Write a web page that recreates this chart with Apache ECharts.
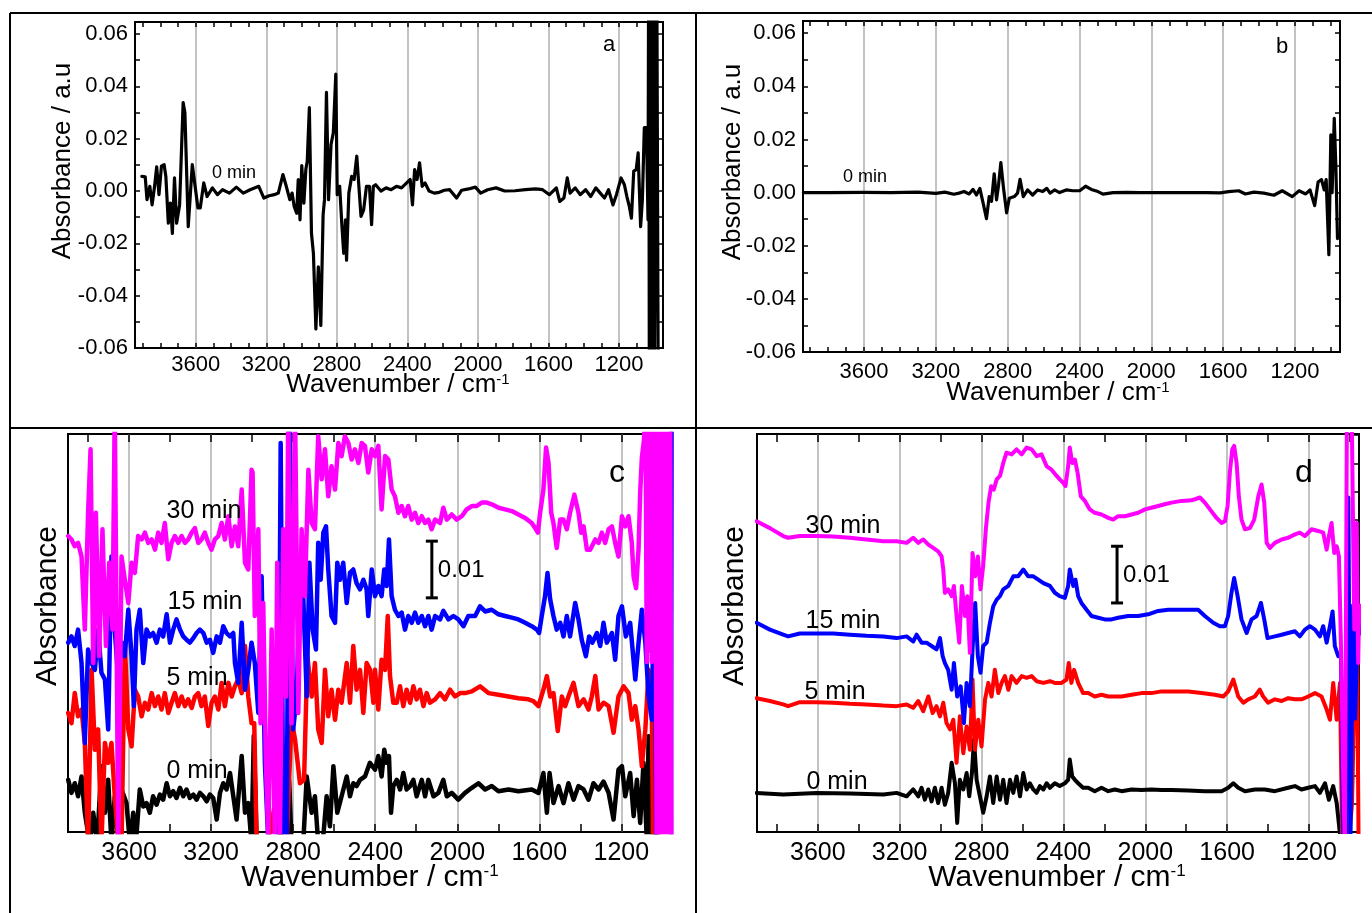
<!DOCTYPE html>
<html><head><meta charset="utf-8">
<script src="https://cdn.jsdelivr.net/npm/echarts@6/dist/echarts.min.js"></script>
<style>html,body{margin:0;padding:0;background:#fff}#chart{width:1372px;height:913px}</style>
</head><body><div id="chart"></div>
<script>
// ---------- tick labels ----------
const xMajorLabels = [3600, 3200, 2800, 2400, 2000, 1600, 1200];
const xMinorAB = [1000,1100,1200,1300,1400,1500,1600,1700,1800,1900,2000,2100,2200,2300,2400,2500,2600,2700,2800,2900,3000,3100,3200,3300,3400,3500,3600,3700,3800,3900];
const xMinorCD = [1000,1200,1400,1600,1800,2000,2200,2400,2600,2800,3000,3200,3400,3600,3800];
const yLabelsAB = [-0.06, -0.04, -0.02, 0, 0.02, 0.04, 0.06];
const yTicksAB = [-0.06,-0.05,-0.04,-0.03,-0.02,-0.01,0,0.01,0.02,0.03,0.04,0.05,0.06];
const yTicksCD = [0,0.005,0.01,0.015,0.02,0.025,0.03,0.035,0.04,0.045,0.05,0.055,0.06,0.065,0.07];
const seriesNames = ['0 min', '5 min', '15 min', '30 min'];

// ---------- panel a : [wavenumber, absorbance] ----------
const a0min = [[3906,0.0056],[3887,0.0054],[3877,-0.0033],[3861,0.0018],[3848,-0.0053],[3834,0.0018],[3822,0.0092],[3809,-0.0014],[3795,0.0095],[3780,0.0101],[3770,0.0056],[3756,-0.0123],[3744,-0.0046],[3733,-0.0162],[3721,0.0050],[3709,-0.0123],[3692,-0.0053],[3672,0.0338],[3662,0.0300],[3643,-0.0136],[3620,0.0101],[3604,0.0018],[3588,-0.0065],[3575,-0.0065],[3555,0.0031],[3536,-0.0021],[3506,0.0012],[3477,-0.0014],[3448,0.0005],[3409,-0.0008],[3370,0.0015],[3331,-0.0008],[3292,0.0005],[3243,0.0018],[3214,-0.0027],[3184,-0.0018],[3155,-0.0014],[3132,-0.0008],[3106,0.0063],[3087,0.0018],[3067,-0.0033],[3054,-0.0008],[3042,-0.0059],[3028,-0.0085],[3019,0.0044],[3009,-0.0110],[2999,0.0097],[2987,-0.0046],[2976,0.0082],[2968,0.0114],[2956,0.0319],[2944,-0.0162],[2933,-0.0238],[2919,-0.0527],[2905,-0.0290],[2891,-0.0514],[2878,-0.0091],[2870,-0.0033],[2859,0.0377],[2847,-0.0033],[2833,0.0178],[2820,0.0223],[2806,0.0447],[2798,-0.0014],[2784,0.0018],[2771,-0.0136],[2761,-0.0238],[2751,-0.0110],[2745,-0.0264],[2732,-0.0008],[2716,0.0056],[2702,0.0044],[2687,0.0133],[2675,0.0018],[2663,-0.0097],[2648,-0.0072],[2632,0.0018],[2615,0.0018],[2603,-0.0129],[2593,0.0018],[2580,0.0024],[2550,0.0000],[2521,0.0012],[2492,0.0005],[2462,0.0018],[2433,0.0012],[2404,0.0031],[2384,0.0044],[2371,-0.0053],[2359,0.0082],[2345,0.0044],[2331,0.0108],[2316,0.0018],[2300,0.0031],[2277,0.0000],[2248,-0.0008],[2219,-0.0005],[2190,0.0003],[2160,0.0005],[2121,-0.0027],[2092,0.0003],[2053,0.0008],[2014,0.0015],[1984,-0.0008],[1945,0.0005],[1897,0.0012],[1848,0.0000],[1789,0.0001],[1731,0.0005],[1672,0.0008],[1633,0.0005],[1594,-0.0014],[1555,0.0012],[1536,-0.0040],[1512,-0.0027],[1493,0.0050],[1477,-0.0008],[1448,0.0012],[1419,-0.0014],[1389,0.0005],[1360,-0.0021],[1331,0.0012],[1306,-0.0008],[1282,-0.0027],[1259,0.0005],[1234,-0.0053],[1214,-0.0014],[1188,0.0050],[1169,0.0024],[1155,-0.0021],[1141,-0.0059],[1129,-0.0104],[1116,0.0076],[1102,0.0082],[1091,0.0146],[1077,-0.0136],[1067,-0.0033],[1056,0.0242],[1044,0.0242],[1035,-0.0110],[1031,0.1],[1027,-0.1],[1023,0.1],[1019,-0.1],[1006,0.1],[1001,-0.1],[986,0.1],[976,-0.1]];

// ---------- panel b ----------
const b0min = [[3938,0],[3800,0],[3600,0.0001],[3450,0],[3300,0.0002],[3200,-0.0003],[3150,0.0002],[3100,-0.0006],[3071,-0.0002],[3043,0.0004],[3015,-0.0005],[2993,0.0012],[2974,-0.0009],[2955,0.0016],[2937,-0.0039],[2918,-0.0098],[2903,-0.0015],[2890,-0.0033],[2875,0.0071],[2862,-0.0027],[2851,0.0028],[2838,0.0113],[2823,0.0016],[2806,-0.0076],[2791,-0.0021],[2763,-0.0015],[2745,-0.0002],[2731,0.0050],[2713,-0.0015],[2689,0.0010],[2661,-0.0009],[2633,0.0010],[2605,0.0004],[2582,0.0016],[2564,-0.0002],[2539,0.0010],[2511,0],[2474,0.0010],[2437,0.0007],[2399,0.0007],[2366,0.0024],[2334,0.0012],[2297,0.0004],[2269,-0.0006],[2213,0],[2138,0.0001],[2064,0],[2004,0],[1914,0],[1802,0],[1690,0],[1616,-0.0001],[1569,0.0004],[1513,0.0007],[1476,-0.0005],[1429,0.0002],[1373,-0.0002],[1317,-0.001],[1271,0.0007],[1215,-0.0015],[1177,0.0007],[1140,-0.0005],[1116,0.001],[1090,-0.0049],[1071,0.004],[1052,0.0049],[1037,0.001],[1026,0.0049],[1011,-0.0234],[1000,0.0217],[993,0],[981,0.0280],[972,0.0095],[963,-0.0173]];

// ---------- panel c (stacked, arbitrary offset; scale bar = 0.01) ----------
const c0min = [[3897,0.0092],[3881,0.0069],[3865,0.0086],[3849,0.0063],[3832,0.0098],[3816,0.0034],[3792,-0.002],[3775,0.0034],[3756,-0.002],[3735,0.0116],[3718,0.0034],[3702,0.0092],[3686,-0.002],[3670,0.0063],[3653,0.0034],[3637,0.0075],[3613,0.0051],[3596,-0.002],[3580,0.0034],[3567,-0.002],[3548,0.0075],[3531,0.0045],[3515,0.0051],[3499,0.0034],[3483,0.0063],[3466,0.0048],[3450,0.0066],[3434,0.0057],[3417,0.0086],[3401,0.0063],[3385,0.0072],[3369,0.0060],[3352,0.0078],[3336,0.0063],[3320,0.0075],[3304,0.0060],[3287,0.0066],[3271,0.0057],[3255,0.0069],[3238,0.0063],[3222,0.0054],[3206,0.0066],[3190,0.0060],[3173,0.0022],[3157,0.0069],[3141,0.0086],[3125,0.0075],[3108,0.0104],[3092,0.0063],[3076,0.0022],[3051,0.0134],[3035,0.0034],[3019,0.0051],[3003,-0.002],[2992,0.0170],[2978,-0.002],[2954,-0.002],[2930,-0.002],[2897,-0.002],[2865,-0.002],[2832,0.0134],[2819,0.0086],[2808,-0.002],[2783,-0.002],[2751,-0.002],[2734,0.0098],[2710,0.0034],[2694,0.0063],[2678,-0.002],[2656,-0.002],[2637,0.0063],[2621,0.0010],[2604,0.0116],[2585,0.0034],[2564,0.0063],[2539,0.0098],[2523,0.0063],[2507,0.0086],[2491,0.0081],[2474,0.0092],[2450,0.0098],[2426,0.0122],[2401,0.0110],[2385,0.0134],[2369,0.0098],[2356,0.0145],[2344,0.0122],[2333,0.0134],[2323,0.0034],[2312,0.0081],[2295,0.0092],[2279,0.0075],[2263,0.0104],[2247,0.0075],[2230,0.0081],[2214,0.0092],[2198,0.0063],[2173,0.0092],[2157,0.0063],[2141,0.0092],[2116,0.0063],[2092,0.0069],[2068,0.0092],[2051,0.0063],[2027,0.0069],[1995,0.0057],[1962,0.0069],[1929,0.0078],[1897,0.0086],[1864,0.0075],[1832,0.0081],[1799,0.0072],[1750,0.0075],[1702,0.0072],[1637,0.0075],[1604,0.0069],[1580,0.0104],[1563,0.0034],[1550,0.0104],[1531,0.0051],[1506,0.0081],[1482,0.0051],[1458,0.0086],[1433,0.0057],[1409,0.0081],[1384,0.0075],[1360,0.0057],[1336,0.0086],[1311,0.0075],[1287,0.0089],[1262,0.0069],[1238,0.0022],[1214,0.0110],[1197,0.0116],[1181,0.0063],[1157,0.0104],[1140,0.0028],[1124,0.0092],[1108,0.0016],[1092,0.0122],[1075,-0.002],[1067,0.0169],[1058,-0.002],[1050,0.0120],[1042,-0.003],[1035,0.0100],[1028,-0.003]];
const c5min = [[3897,0.0210],[3881,0.0192],[3865,0.0245],[3849,0.0204],[3832,0.0216],[3816,0.0157],[3800,-0.002],[3783,0.0286],[3767,0.0145],[3751,0.0181],[3735,-0.002],[3718,0.0157],[3702,0.0122],[3686,0.0157],[3670,0.0063],[3653,-0.002],[3637,-0.002],[3621,0.0334],[3604,0.0181],[3588,0.0151],[3572,0.0251],[3556,0.0239],[3539,0.0204],[3523,0.0228],[3507,0.0216],[3490,0.0245],[3474,0.0222],[3458,0.0239],[3442,0.0216],[3426,0.0245],[3409,0.0210],[3393,0.0228],[3377,0.0245],[3360,0.0222],[3344,0.0239],[3328,0.0222],[3312,0.0234],[3295,0.0219],[3279,0.0239],[3263,0.0245],[3247,0.0222],[3231,0.0239],[3214,0.0187],[3198,0.0228],[3182,0.0239],[3165,0.0216],[3149,0.0263],[3133,0.0222],[3116,0.0263],[3100,0.0239],[3084,0.0257],[3068,0.0269],[3051,0.0245],[3035,0.0328],[3019,0.0239],[3003,0.0192],[2990,0.0192],[2978,-0.002],[2950,-0.002],[2920,-0.002],[2881,0.0069],[2850,-0.002],[2832,-0.002],[2808,0.0198],[2791,0.0163],[2767,0.0086],[2747,0.0092],[2731,0.0310],[2710,0.0239],[2694,0.0298],[2678,0.0181],[2661,0.0157],[2645,0.0286],[2629,0.0204],[2613,0.0251],[2596,0.0198],[2580,0.0251],[2564,0.0228],[2539,0.0298],[2523,0.0228],[2507,0.0328],[2491,0.0251],[2474,0.0286],[2458,0.0210],[2442,0.0298],[2425,0.0286],[2409,0.0228],[2401,0.0286],[2385,0.0216],[2369,0.0304],[2352,0.0286],[2339,0.0381],[2328,0.0275],[2312,0.0228],[2295,0.0228],[2279,0.0257],[2263,0.0222],[2247,0.0251],[2230,0.0228],[2214,0.0257],[2198,0.0234],[2182,0.0251],[2165,0.0222],[2149,0.0245],[2133,0.0228],[2108,0.0234],[2084,0.0245],[2060,0.0234],[2035,0.0251],[2011,0.0239],[1986,0.0245],[1962,0.0245],[1929,0.0248],[1889,0.0257],[1848,0.0245],[1799,0.0242],[1750,0.0239],[1702,0.0236],[1653,0.0234],[1629,0.0231],[1604,0.0222],[1580,0.0251],[1563,0.0275],[1547,0.0239],[1531,0.0245],[1510,0.0178],[1490,0.0239],[1474,0.0222],[1458,0.0239],[1433,0.0263],[1409,0.0222],[1384,0.0234],[1360,0.0216],[1344,0.0239],[1327,0.0275],[1311,0.0216],[1287,0.0228],[1262,0.0222],[1238,0.0175],[1214,0.0239],[1189,0.0257],[1165,0.0245],[1149,0.0198],[1132,0.0222],[1116,0.0181],[1100,0.0116],[1083,0.0181],[1067,0.0286],[1051,0.0204],[1045,-0.002],[1038,0.0370],[1030,-0.002],[1022,0.0360],[1015,-0.003]];
const c15min = [[3897,0.0334],[3881,0.0345],[3865,0.0328],[3849,0.0357],[3832,0.0298],[3816,0.0157],[3800,0.0322],[3783,0.0298],[3767,0.0286],[3751,0.0357],[3735,0.0281],[3718,0.0269],[3702,0.0181],[3686,0.0486],[3670,0.0357],[3653,0.0269],[3637,0.0334],[3621,0.0310],[3604,0.0392],[3588,0.0310],[3577,0.0222],[3564,0.0357],[3548,0.0392],[3531,0.0298],[3515,0.0357],[3499,0.0345],[3483,0.0351],[3466,0.0334],[3450,0.0357],[3434,0.0345],[3417,0.0384],[3401,0.0334],[3385,0.0357],[3369,0.0375],[3352,0.0357],[3336,0.0345],[3320,0.0339],[3304,0.0334],[3287,0.0342],[3271,0.0351],[3255,0.0357],[3238,0.0351],[3222,0.0334],[3206,0.0339],[3190,0.0316],[3173,0.0345],[3157,0.0334],[3141,0.0363],[3125,0.0351],[3108,0.0345],[3092,0.0351],[3084,0.0298],[3068,0.0263],[3051,0.0369],[3035,0.0251],[3019,0.0286],[3003,0.0334],[2987,0.0298],[2970,0.0210],[2954,0.0451],[2938,0.0122],[2921,-0.002],[2897,-0.002],[2873,-0.002],[2861,0.0686],[2848,-0.002],[2832,-0.002],[2819,0.075],[2800,0.0181],[2783,0.0239],[2767,0.0445],[2751,0.0416],[2734,0.0239],[2721,0.0475],[2705,0.0357],[2689,0.0322],[2678,0.0510],[2666,0.0445],[2653,0.0528],[2640,0.0539],[2629,0.0463],[2613,0.0381],[2596,0.0369],[2585,0.0475],[2572,0.0445],[2556,0.0475],[2539,0.0404],[2523,0.0457],[2507,0.0463],[2491,0.0439],[2474,0.0428],[2458,0.0445],[2442,0.0428],[2434,0.0381],[2417,0.0463],[2401,0.0416],[2385,0.0434],[2369,0.0416],[2356,0.0463],[2344,0.0434],[2333,0.0516],[2320,0.0416],[2304,0.0392],[2287,0.0381],[2271,0.0387],[2255,0.0357],[2239,0.0381],[2222,0.0369],[2206,0.0387],[2190,0.0369],[2173,0.0381],[2157,0.0363],[2141,0.0381],[2125,0.0357],[2108,0.0381],[2084,0.0375],[2068,0.0390],[2043,0.0375],[2019,0.0381],[1995,0.0375],[1970,0.0363],[1946,0.0381],[1913,0.0381],[1889,0.0398],[1864,0.0389],[1832,0.0392],[1799,0.0384],[1767,0.0381],[1734,0.0378],[1702,0.0375],[1669,0.0369],[1637,0.0363],[1612,0.0357],[1601,0.0351],[1588,0.0381],[1572,0.0416],[1560,0.0457],[1547,0.0410],[1531,0.0381],[1515,0.0357],[1498,0.0369],[1482,0.0345],[1466,0.0381],[1450,0.0345],[1425,0.0404],[1409,0.0375],[1393,0.0339],[1373,0.0310],[1357,0.0345],[1341,0.0334],[1319,0.0351],[1303,0.0328],[1287,0.0369],[1271,0.0334],[1246,0.0351],[1230,0.0304],[1214,0.0381],[1197,0.0398],[1178,0.0345],[1157,0.0369],[1132,0.0269],[1116,0.0334],[1100,0.0392],[1083,0.0334],[1067,0.0239],[1051,0.0198],[1038,0.0516],[1030,-0.002],[958,-0.002],[955,0.075]];
const c30min = [[3897,0.0522],[3881,0.0516],[3865,0.0504],[3849,0.0510],[3832,0.0486],[3816,0.0357],[3800,0.0563],[3788,0.0675],[3775,0.0298],[3762,0.0563],[3746,0.0310],[3730,0.0534],[3713,0.0328],[3697,0.0475],[3681,0.0357],[3670,0.075],[3653,-0.002],[3637,0.0486],[3621,0.0445],[3604,0.0404],[3588,0.0475],[3572,0.0457],[3556,0.0522],[3539,0.0516],[3523,0.0528],[3507,0.0510],[3490,0.0516],[3474,0.0498],[3458,0.0528],[3442,0.0510],[3426,0.0545],[3409,0.0481],[3393,0.0510],[3377,0.0522],[3360,0.0510],[3344,0.0522],[3328,0.0510],[3312,0.0516],[3295,0.0528],[3279,0.0536],[3263,0.0510],[3247,0.0516],[3231,0.0528],[3214,0.0510],[3198,0.0498],[3182,0.0516],[3165,0.0522],[3149,0.0545],[3133,0.0516],[3116,0.0557],[3100,0.0504],[3084,0.0539],[3068,0.0504],[3051,0.0604],[3035,0.0475],[3019,0.0463],[3003,0.0639],[2998,0.0634],[2987,0.0381],[2970,0.0534],[2959,0.0192],[2946,0.0404],[2933,0.0122],[2921,-0.002],[2905,0.0357],[2889,-0.002],[2878,0.0475],[2865,-0.002],[2848,0.0534],[2835,0.0239],[2824,0.075],[2808,0.0192],[2791,0.075],[2775,0.0210],[2759,0.0534],[2743,0.0416],[2726,0.0639],[2710,0.0545],[2694,0.0534],[2678,0.0698],[2661,0.0622],[2645,0.0675],[2629,0.0592],[2613,0.0645],[2596,0.0604],[2580,0.0686],[2564,0.0663],[2548,0.0698],[2531,0.0686],[2515,0.0657],[2499,0.0675],[2482,0.0651],[2466,0.0686],[2450,0.0681],[2434,0.0634],[2417,0.0675],[2401,0.0663],[2385,0.0681],[2369,0.0569],[2352,0.0663],[2336,0.0657],[2320,0.0604],[2304,0.0592],[2287,0.0563],[2271,0.0575],[2255,0.0557],[2239,0.0575],[2222,0.0551],[2206,0.0563],[2190,0.0545],[2173,0.0557],[2157,0.0545],[2141,0.0551],[2125,0.0534],[2108,0.0551],[2084,0.0545],[2068,0.0572],[2051,0.0551],[2027,0.0560],[2003,0.0551],[1978,0.0557],[1954,0.0569],[1929,0.0575],[1905,0.0575],[1881,0.0581],[1856,0.0581],[1832,0.0578],[1799,0.0572],[1767,0.0569],[1734,0.0566],[1702,0.0560],[1669,0.0554],[1637,0.0545],[1620,0.0536],[1607,0.0528],[1596,0.0563],[1580,0.0604],[1567,0.0678],[1555,0.0651],[1542,0.0563],[1531,0.0545],[1515,0.0501],[1498,0.0551],[1482,0.0551],[1466,0.0534],[1450,0.0563],[1429,0.0595],[1409,0.0563],[1396,0.0528],[1384,0.0539],[1368,0.0498],[1352,0.0498],[1327,0.0516],[1311,0.0510],[1295,0.0528],[1279,0.0510],[1262,0.0534],[1246,0.0539],[1230,0.0510],[1214,0.0486],[1197,0.0557],[1181,0.0539],[1165,0.0557],[1149,0.0510],[1140,0.0450],[1128,0.0430],[1116,0.0500],[1108,0.0600],[1100,0.0660],[1090,0.0690],[1082,0.075],[1076,0.030],[1070,0.075],[1064,0.032],[1058,0.075],[1052,0.030],[1046,0.075],[1040,0.034],[1034,0.075],[1028,-0.003],[1022,0.075],[1016,-0.003],[1010,0.075],[1004,-0.003],[998,0.075],[992,-0.003],[986,0.075],[980,-0.003],[974,0.075],[968,-0.003],[962,0.075],[956,-0.003]];

// ---------- panel d ----------
const d0min = [[3899,0.0069],[3769,0.0066],[3606,0.0069],[3443,0.0068],[3280,0.0066],[3215,0.0069],[3166,0.0063],[3134,0.0075],[3109,0.0063],[3093,0.0078],[3077,0.0057],[3060,0.0075],[3044,0.0054],[3028,0.0078],[3012,0.0051],[2995,0.0078],[2979,0.0048],[2963,0.0069],[2946,0.0122],[2930,0.0086],[2919,0.0016],[2906,0.0092],[2889,0.0075],[2873,0.0104],[2860,0.0063],[2847,0.0104],[2837,0.0163],[2824,0.0092],[2808,0.0063],[2792,0.0034],[2775,0.0063],[2759,0.0098],[2743,0.0051],[2726,0.0098],[2710,0.0057],[2694,0.0092],[2678,0.0051],[2661,0.0092],[2645,0.0069],[2629,0.0098],[2612,0.0063],[2596,0.0104],[2580,0.0075],[2564,0.0086],[2547,0.0075],[2531,0.0069],[2515,0.0081],[2498,0.0075],[2482,0.0086],[2466,0.0078],[2442,0.0086],[2418,0.0081],[2393,0.0086],[2377,0.0092],[2369,0.0128],[2357,0.0098],[2344,0.0092],[2328,0.0086],[2304,0.0078],[2279,0.0078],[2247,0.0072],[2214,0.0078],[2181,0.0072],[2149,0.0075],[2116,0.0072],[2067,0.0075],[2018,0.0074],[1970,0.0075],[1921,0.0074],[1872,0.0074],[1790,0.0073],[1709,0.0072],[1627,0.0072],[1595,0.0078],[1570,0.0086],[1546,0.0078],[1513,0.0072],[1465,0.0075],[1416,0.0075],[1367,0.0072],[1302,0.0078],[1269,0.0081],[1237,0.0075],[1204,0.0078],[1171,0.0081],[1147,0.0069],[1122,0.0086],[1103,0.0057],[1082,0.0081],[1065,0.0051],[1044,-0.002],[1000,-0.003],[955,-0.003]];
const d5min = [[3899,0.0236],[3834,0.0231],[3769,0.0225],[3745,0.0222],[3688,0.0229],[3606,0.0229],[3525,0.0228],[3443,0.0226],[3362,0.0225],[3280,0.0223],[3215,0.0222],[3166,0.0225],[3134,0.0219],[3109,0.0231],[3085,0.0213],[3060,0.0239],[3039,0.0210],[3020,0.0222],[3003,0.0204],[2987,0.0228],[2971,0.0192],[2954,0.0181],[2938,0.0198],[2922,0.0122],[2906,0.0204],[2889,0.0139],[2873,0.0186],[2857,0.0145],[2844,0.0269],[2832,0.0145],[2816,0.0198],[2800,0.0151],[2783,0.0234],[2767,0.0263],[2751,0.0239],[2735,0.0286],[2718,0.0245],[2702,0.0263],[2686,0.0275],[2669,0.0251],[2653,0.0275],[2629,0.0263],[2604,0.0275],[2580,0.0272],[2555,0.0275],[2531,0.0266],[2498,0.0263],[2466,0.0266],[2442,0.0263],[2409,0.0263],[2385,0.0269],[2374,0.0298],[2361,0.0263],[2348,0.0286],[2328,0.0263],[2304,0.0245],[2279,0.0245],[2247,0.0239],[2214,0.0242],[2181,0.0239],[2149,0.0239],[2116,0.0239],[2067,0.0242],[2018,0.0245],[1970,0.0245],[1921,0.0248],[1872,0.0248],[1790,0.0248],[1725,0.0245],[1660,0.0242],[1619,0.0239],[1595,0.0248],[1570,0.0269],[1546,0.0239],[1521,0.0228],[1497,0.0234],[1465,0.0239],[1441,0.0251],[1424,0.0239],[1400,0.0228],[1367,0.0234],[1334,0.0231],[1302,0.0236],[1269,0.0234],[1237,0.0234],[1204,0.0239],[1171,0.0245],[1139,0.0239],[1114,0.0216],[1098,0.0198],[1082,0.0263],[1065,0.0198],[1049,0.0263],[1038,-0.002],[1010,-0.003],[990,0.005],[975,0.030],[965,0.030],[958,-0.002]];
const d15min = [[3899,0.0369],[3834,0.0357],[3769,0.0348],[3745,0.0345],[3688,0.0350],[3606,0.0350],[3525,0.0350],[3443,0.0348],[3362,0.0346],[3280,0.0345],[3215,0.0342],[3166,0.0345],[3134,0.0336],[3117,0.0348],[3093,0.0334],[3069,0.0334],[3044,0.0328],[3020,0.0322],[3003,0.0342],[2990,0.0310],[2979,0.0298],[2963,0.0286],[2946,0.0251],[2935,0.0298],[2919,0.0239],[2902,0.0257],[2886,0.0192],[2873,0.0263],[2857,0.0222],[2844,0.0322],[2831,0.0404],[2818,0.0310],[2805,0.0281],[2792,0.0328],[2775,0.0334],[2759,0.0369],[2743,0.0398],[2726,0.0410],[2710,0.0416],[2694,0.0428],[2669,0.0434],[2645,0.0451],[2621,0.0451],[2596,0.0463],[2572,0.0451],[2547,0.0451],[2523,0.0445],[2498,0.0439],[2466,0.0434],[2442,0.0422],[2418,0.0416],[2393,0.0413],[2377,0.0434],[2369,0.0463],[2352,0.0434],[2341,0.0445],[2328,0.0416],[2312,0.0404],[2287,0.0392],[2263,0.0381],[2230,0.0378],[2198,0.0375],[2165,0.0375],[2133,0.0378],[2084,0.0381],[2035,0.0381],[1986,0.0384],[1937,0.0390],[1888,0.0392],[1839,0.0392],[1790,0.0392],[1742,0.0392],[1709,0.0381],[1668,0.0369],[1636,0.0363],[1611,0.0363],[1595,0.0381],[1579,0.0422],[1566,0.0448],[1549,0.0416],[1530,0.0375],[1505,0.0351],[1481,0.0375],[1456,0.0381],[1435,0.0404],[1419,0.0375],[1403,0.0342],[1367,0.0345],[1334,0.0348],[1302,0.0351],[1269,0.0354],[1245,0.0345],[1220,0.0357],[1196,0.0363],[1171,0.0357],[1147,0.0345],[1131,0.0363],[1114,0.0334],[1098,0.0363],[1085,0.0389],[1074,0.0328],[1057,0.0310],[1044,0.0310],[1033,-0.002],[1020,-0.003],[1008,0.059],[998,-0.003],[985,0.040],[975,0.020],[960,0.040],[955,0.035]];
const d30min = [[3899,0.0548],[3834,0.0536],[3769,0.0522],[3745,0.0519],[3688,0.0522],[3606,0.0522],[3525,0.0521],[3443,0.0519],[3362,0.0516],[3280,0.0513],[3215,0.0513],[3166,0.0510],[3134,0.0519],[3109,0.0510],[3085,0.0516],[3060,0.0507],[3036,0.0501],[3012,0.0495],[2995,0.0486],[2987,0.0463],[2979,0.0422],[2963,0.0428],[2946,0.0416],[2935,0.0434],[2922,0.0381],[2909,0.0334],[2896,0.0434],[2881,0.0381],[2870,0.0416],[2857,0.0316],[2844,0.0492],[2831,0.0451],[2818,0.0486],[2805,0.0428],[2792,0.0469],[2779,0.0534],[2766,0.0581],[2753,0.0610],[2740,0.0604],[2726,0.0622],[2710,0.0628],[2694,0.0651],[2678,0.0669],[2653,0.0666],[2629,0.0675],[2604,0.0666],[2580,0.0678],[2555,0.0675],[2531,0.0663],[2507,0.0666],[2482,0.0645],[2458,0.0639],[2433,0.0628],[2418,0.0622],[2401,0.0616],[2390,0.0610],[2377,0.0645],[2369,0.0678],[2357,0.0651],[2344,0.0657],[2331,0.0634],[2315,0.0592],[2295,0.0584],[2271,0.0569],[2247,0.0563],[2214,0.0560],[2181,0.0554],[2157,0.0551],[2133,0.0557],[2100,0.0557],[2067,0.0560],[2035,0.0563],[2002,0.0569],[1970,0.0572],[1937,0.0575],[1905,0.0578],[1872,0.0581],[1823,0.0584],[1774,0.0585],[1733,0.0590],[1709,0.0581],[1684,0.0569],[1652,0.0554],[1627,0.0545],[1611,0.0548],[1598,0.0575],[1587,0.0634],[1575,0.0675],[1566,0.0681],[1554,0.0651],[1543,0.0592],[1530,0.0551],[1513,0.0534],[1489,0.0536],[1468,0.0551],[1448,0.0592],[1432,0.0613],[1419,0.0581],[1407,0.0510],[1391,0.0501],[1367,0.0510],[1334,0.0516],[1302,0.0519],[1269,0.0525],[1245,0.0528],[1220,0.0522],[1188,0.0534],[1155,0.0531],[1131,0.0528],[1114,0.0498],[1103,0.0522],[1090,0.0545],[1077,0.0492],[1065,0.0504],[1054,0.0486],[1044,0.0328],[1033,0.0092],[1025,-0.003],[1015,0.075],[992,0.075],[979,0.0357],[967,0.0545],[960,0.0298],[955,0.040]];

// scale bars: [wavenumber, lower, upper] (0.01 absorbance)
const cScaleBar = [[2124, 0.0413, 0.0513]];
const dScaleBar = [[2138, 0.0404, 0.0504]];

// ---------- layout ----------
const FONT = "'Liberation Sans', Arial, Helvetica, sans-serif";
const COLORS = ['#000000', '#ff0000', '#0000ff', '#ff00ff'];
const panels = [
  {grid:{left:135, top:22, width:528, height:326}, xr:[950,3945], yr:[-0.06,0.0646], minor:xMinorAB, tickLen:5, xFont:22, xMargin:6, ab:true},
  {grid:{left:803, top:21, width:537, height:331}, xr:[949,3940], yr:[-0.06,0.0646], minor:xMinorAB, tickLen:5, xFont:22, xMargin:9, ab:true},
  {grid:{left:68, top:434, width:604, height:398}, xr:[953,3898], yr:[0,0.0702], minor:xMinorCD, tickLen:8, xFont:25, xMargin:9, ab:false},
  {grid:{left:757, top:434, width:602, height:398}, xr:[956,3897], yr:[0,0.0702], minor:xMinorCD, tickLen:8, xFont:25, xMargin:9, ab:false}
];
const tickStyle = {color:'#000', width:1.5};
const grid = [], xAxis = [], yAxis = [];
panels.forEach((p, g) => {
  grid.push(Object.assign({show:true, borderColor:'#000', borderWidth:2, backgroundColor:'rgba(0,0,0,0)', containLabel:false}, p.grid));
  const base = {gridIndex:g, type:'value', min:p.xr[0], max:p.xr[1], inverse:true, axisLine:{show:false, onZero:false}, splitLine:{show:false}};
  xAxis.push(Object.assign({}, base, {position:'bottom',
    axisTick:{inside:true, length:p.tickLen, customValues:p.minor, lineStyle:tickStyle},
    axisLabel:{customValues:xMajorLabels, formatter:v => String(v), fontSize:p.xFont, margin:p.xMargin, color:'#000', fontFamily:FONT}}));
  xAxis.push(Object.assign({}, base, {position:'bottom',
    axisTick:{show:false, customValues:xMajorLabels}, axisLabel:{show:false},
    splitLine:{show:true, lineStyle:{color:'#c3c3c3', width:2}}}));
  xAxis.push(Object.assign({}, base, {position:'top',
    axisTick:{inside:true, length:p.tickLen, customValues:p.minor, lineStyle:tickStyle}, axisLabel:{show:false}}));
  const yb = {gridIndex:g, type:'value', min:p.yr[0], max:p.yr[1], axisLine:{show:false, onZero:false}, splitLine:{show:false}};
  if (p.ab) {
    yAxis.push(Object.assign({}, yb, {position:'left',
      axisTick:{inside:true, length:5, customValues:yTicksAB, lineStyle:tickStyle},
      axisLabel:{customValues:yLabelsAB, formatter:v => Number(v).toFixed(2), fontSize:22, margin:7, color:'#000', fontFamily:FONT}}));
    yAxis.push(Object.assign({}, yb, {position:'right',
      axisTick:{inside:true, length:5, customValues:yTicksAB, lineStyle:tickStyle}, axisLabel:{show:false}}));
  } else {
    yAxis.push(Object.assign({}, yb, {position:'left', axisTick:{show:false}, axisLabel:{show:false}}));
    yAxis.push(Object.assign({}, yb, {position:'right',
      axisTick:{inside:true, length:6, customValues:yTicksCD, lineStyle:tickStyle}, axisLabel:{show:false}}));
  }
});

function lineSeries(g, data, color, width, name) {
  return {type:'line', name:name, xAxisIndex:3*g, yAxisIndex:2*g, data:data, showSymbol:false, symbol:'none',
    clip:true, silent:true, lineStyle:{color:color, width:width, join:'round', cap:'round'}, z:3};
}
function scaleBar(g, data) {
  return {type:'custom', xAxisIndex:3*g, yAxisIndex:2*g, data:data, silent:true, z:5,
    encode:{x:0, y:[1,2]},
    renderItem:(params, api) => {
      const x = api.value(0);
      const p1 = api.coord([x, api.value(1)]);
      const p2 = api.coord([x, api.value(2)]);
      const hw = 6, st = {stroke:'#000', lineWidth:3};
      return {type:'group', children:[
        {type:'line', shape:{x1:p1[0], y1:p1[1], x2:p2[0], y2:p2[1]}, style:st},
        {type:'line', shape:{x1:p1[0]-hw, y1:p1[1], x2:p1[0]+hw, y2:p1[1]}, style:st},
        {type:'line', shape:{x1:p2[0]-hw, y1:p2[1], x2:p2[0]+hw, y2:p2[1]}, style:st},
        {type:'text', x:p1[0]+6, y:(p1[1]+p2[1])/2+1, style:{text:'0.01', fontSize:24, fontFamily:FONT, fill:'#000', align:'left', verticalAlign:'middle'}}
      ]};
    }};
}

const series = [
  lineSeries(0, a0min, '#000', 3.2, seriesNames[0]),
  lineSeries(1, b0min, '#000', 3.2, seriesNames[0]),
  lineSeries(2, c0min, COLORS[0], 4.5, seriesNames[0]),
  lineSeries(2, c5min, COLORS[1], 4.5, seriesNames[1]),
  lineSeries(2, c15min, COLORS[2], 4.5, seriesNames[2]),
  lineSeries(2, c30min, COLORS[3], 4.5, seriesNames[3]),
  lineSeries(3, d0min, COLORS[0], 4, seriesNames[0]),
  lineSeries(3, d5min, COLORS[1], 4, seriesNames[1]),
  lineSeries(3, d15min, COLORS[2], 4, seriesNames[2]),
  lineSeries(3, d30min, COLORS[3], 4, seriesNames[3]),
  scaleBar(2, cScaleBar),
  scaleBar(3, dScaleBar)
];

function txt(x, y, text, size, rot) {
  return {type:'text', x:x, y:y, rotation:rot || 0, z:10, silent:true,
    style:{text:text, fontSize:size, fontFamily:FONT, fill:'#000', align:'center', verticalAlign:'middle'}};
}
function xTitle(x, y, size) {
  return {type:'text', x:x, y:y, z:10, silent:true,
    style:{text:'{m|Wavenumber / cm}{s|-1}', align:'center', verticalAlign:'middle',
      rich:{m:{fontSize:size, fontFamily:FONT, fill:'#000'}, s:{fontSize:Math.round(size*0.58), fontFamily:FONT, fill:'#000', verticalAlign:'top'}}}};
}
function hline(x1, y1, x2, y2) {
  return {type:'line', silent:true, z:10, shape:{x1:x1, y1:y1, x2:x2, y2:y2}, style:{stroke:'#000', lineWidth:2}};
}
const graphic = [
  hline(10, 13, 1372, 13), hline(10, 13, 10, 913), hline(696, 13, 696, 913), hline(10, 428, 1372, 428),
  txt(609, 45, 'a', 22), txt(1282, 47, 'b', 22), txt(617, 473, 'c', 32), txt(1304, 473, 'd', 32),
  txt(234, 173, seriesNames[0], 18), txt(865, 177, seriesNames[0], 18),
  txt(204, 511, seriesNames[3], 25), txt(205, 602, seriesNames[2], 25), txt(197, 678, seriesNames[1], 25), txt(197, 771, seriesNames[0], 25),
  txt(843, 526, seriesNames[3], 25), txt(843, 621, seriesNames[2], 25), txt(835, 692, seriesNames[1], 25), txt(837, 782, seriesNames[0], 25),
  xTitle(398, 385, 26), xTitle(1058, 393, 26), xTitle(370, 878, 30), xTitle(1057, 878, 30),
  txt(63, 161, 'Absorbance / a.u', 26, Math.PI/2), txt(733, 162, 'Absorbance / a.u', 26, Math.PI/2),
  txt(48, 606, 'Absorbance', 30, Math.PI/2), txt(735, 606, 'Absorbance', 30, Math.PI/2)
];

const chart = echarts.init(document.getElementById('chart'), null, {renderer:'canvas'});
chart.setOption({animation:false, backgroundColor:'#fff', grid, xAxis, yAxis, series, graphic,
  textStyle:{fontFamily:FONT}});
</script></body></html>
